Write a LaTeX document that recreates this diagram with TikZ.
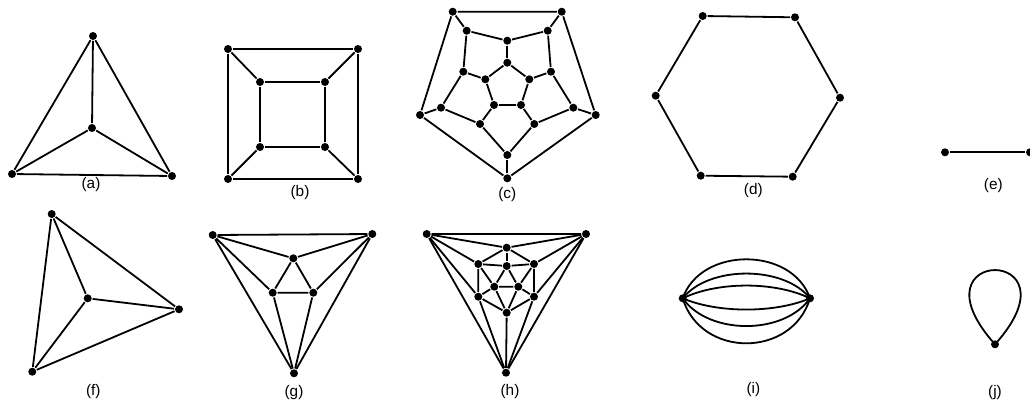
\documentclass[tikz,border=0pt]{standalone}
\usepackage{fontspec}
\setmainfont{Liberation Sans}
\begin{document}
\begin{tikzpicture}[
  x=0.75pt, y=-0.75pt,
  line width=1.35pt,
  vertex/.style={circle, fill=black, draw=none, inner sep=0pt, minimum size=6pt},
  caption/.style={font=\fontsize{11.5}{13}\selectfont, inner sep=1pt}
]
\useasboundingbox (0,0) rectangle (1030,408);
% (a)
\node[vertex] (a1) at (93,36) {};
\node[vertex] (a2) at (92,128) {};
\node[vertex] (a3) at (12,174) {};
\node[vertex] (a4) at (172,176) {};
\draw (a1) -- (a3) -- (a4) -- (a1);
\draw (a2) -- (a1); \draw (a2) -- (a3); \draw (a2) -- (a4);
\node[caption] (la) at (91,185) {(a)};
% (b)
\node[vertex] (b1) at (228,49) {};
\node[vertex] (b2) at (358,49) {};
\node[vertex] (b3) at (358,179) {};
\node[vertex] (b4) at (228,179) {};
\node[vertex] (b5) at (260,82) {};
\node[vertex] (b6) at (325,82) {};
\node[vertex] (b7) at (325,147) {};
\node[vertex] (b8) at (260,147) {};
\draw (b1) -- (b2) -- (b3) -- (b4) -- (b1);
\draw (b5) -- (b6) -- (b7) -- (b8) -- (b5);
\draw (b1) -- (b5); \draw (b2) -- (b6); \draw (b3) -- (b7); \draw (b4) -- (b8);
\node[caption] (lb) at (300,193) {(b)};
% (c)
\node[vertex] (c1) at (452.7,11.7) {};
\node[vertex] (c2) at (561.7,11.7) {};
\node[vertex] (c3) at (595.7,115) {};
\node[vertex] (c4) at (507.3,178.3) {};
\node[vertex] (c5) at (420,115) {};
\node[vertex] (c6) at (466.7,30.7) {};
\node[vertex] (c7) at (507.3,40.7) {};
\node[vertex] (c8) at (547.7,30.7) {};
\node[vertex] (c9) at (551,71.7) {};
\node[vertex] (c10) at (573.3,107.7) {};
\node[vertex] (c11) at (534.3,124) {};
\node[vertex] (c12) at (507.3,155) {};
\node[vertex] (c13) at (480,124) {};
\node[vertex] (c14) at (441,107.7) {};
\node[vertex] (c15) at (463.3,71.7) {};
\node[vertex] (c16) at (507.3,62.7) {};
\node[vertex] (c17) at (529.3,79.3) {};
\node[vertex] (c18) at (521,105) {};
\node[vertex] (c19) at (494,105) {};
\node[vertex] (c20) at (485.3,79.3) {};
\draw (c1) -- (c2) -- (c3) -- (c4) -- (c5) -- (c1);
\draw (c6) -- (c7) -- (c8) -- (c9) -- (c10) -- (c11) -- (c12) -- (c13) -- (c14) -- (c15) -- (c6);
\draw (c16) -- (c17) -- (c18) -- (c19) -- (c20) -- (c16);
\draw (c1) -- (c6); \draw (c2) -- (c8); \draw (c3) -- (c10); \draw (c4) -- (c12); \draw (c5) -- (c14);
\draw (c7) -- (c16); \draw (c9) -- (c17); \draw (c11) -- (c18); \draw (c13) -- (c19); \draw (c15) -- (c20);
\node[caption] (lc) at (507.3,195) {(c)};
% (d)
\node[vertex] (d1) at (702.7,16) {};
\node[vertex] (d2) at (795,17.3) {};
\node[vertex] (d3) at (840,97.7) {};
\node[vertex] (d4) at (792.7,176.7) {};
\node[vertex] (d5) at (700.7,175.7) {};
\node[vertex] (d6) at (655.7,95.7) {};
\draw (d1) -- (d2) -- (d3) -- (d4) -- (d5) -- (d6) -- (d1);
\node[caption] (ld) at (753.3,191) {(d)};
% (e)
\node[vertex] (e1) at (945,152.3) {};
\node[vertex] (e2) at (1030,152.3) {};
\draw (e1) -- (e2);
\node[caption] (le) at (993.3,186) {(e)};
% (f)
\node[vertex] (f1) at (51.7,214) {};
\node[vertex] (f2) at (87.7,298.3) {};
\node[vertex] (f3) at (179,309.3) {};
\node[vertex] (f4) at (32.3,371.7) {};
\draw (f1) -- (f3) -- (f4) -- (f1);
\draw (f2) -- (f1); \draw (f2) -- (f3); \draw (f2) -- (f4);
\node[caption] (lf) at (93.3,391.7) {(f)};
% (g)
\node[vertex] (g1) at (212.7,235) {};
\node[vertex] (g2) at (372.3,234) {};
\node[vertex] (g3) at (294,373.3) {};
\node[vertex] (g4) at (293.3,258.3) {};
\node[vertex] (g5) at (272.7,292.7) {};
\node[vertex] (g6) at (313.3,292.7) {};
\draw (g1) -- (g2) -- (g3) -- (g1);
\draw (g4) -- (g5) -- (g6) -- (g4);
\draw (g1) -- (g4) -- (g2); \draw (g1) -- (g5) -- (g3); \draw (g2) -- (g6) -- (g3);
\node[caption] (lg) at (294,393) {(g)};
% (h)
\node[vertex] (h1) at (426.7,234) {};
\node[vertex] (h2) at (586,234) {};
\node[vertex] (h3) at (506,372.7) {};
\node[vertex] (h4) at (506.7,247.7) {};
\node[vertex] (h5) at (478.3,264) {};
\node[vertex] (h6) at (534,264) {};
\node[vertex] (h7) at (506.7,266) {};
\node[vertex] (h8) at (494.3,286.7) {};
\node[vertex] (h9) at (518.3,286.7) {};
\node[vertex] (h10) at (478.3,296.7) {};
\node[vertex] (h11) at (534,296.7) {};
\node[vertex] (h12) at (506.7,312.7) {};
\draw (h1) -- (h2) -- (h3) -- (h1);
\draw (h1) -- (h4) -- (h2); \draw (h1) -- (h5); \draw (h1) -- (h10) -- (h3);
\draw (h2) -- (h6); \draw (h2) -- (h11) -- (h3); \draw (h3) -- (h12);
\draw (h4) -- (h5) -- (h7) -- (h6) -- (h4); \draw (h4) -- (h7);
\draw (h5) -- (h10) -- (h12) -- (h11) -- (h6);
\draw (h7) -- (h8) -- (h9) -- (h7);
\draw (h5) -- (h8) -- (h10); \draw (h8) -- (h12) -- (h9); \draw (h6) -- (h9) -- (h11);
\node[caption] (lh) at (510,391.7) {(h)};
% (i)
\node[vertex] (i1) at (682.7,298.3) {};
\node[vertex] (i2) at (810,298.3) {};
\draw (i1.center) .. controls +(18,-52) and +(-18,-52) .. (i2.center);
\draw (i1.center) .. controls +(26,-33) and +(-26,-33) .. (i2.center);
\draw (i1.center) .. controls +(35,-17) and +(-35,-17) .. (i2.center);
\draw (i1.center) .. controls +(35,15) and +(-35,15) .. (i2.center);
\draw (i1.center) .. controls +(26,37) and +(-26,37) .. (i2.center);
\draw (i1.center) .. controls +(18,60) and +(-18,60) .. (i2.center);
\node[caption] (li) at (753.3,390) {(i)};
% (j)
\node[vertex] (j1) at (995,344.3) {};
\draw (j1.center) .. controls +(-89,-99) and +(89,-99) .. (j1.center);
\node[caption] (lj) at (995,392.5) {(j)};
\end{tikzpicture}
\end{document}
